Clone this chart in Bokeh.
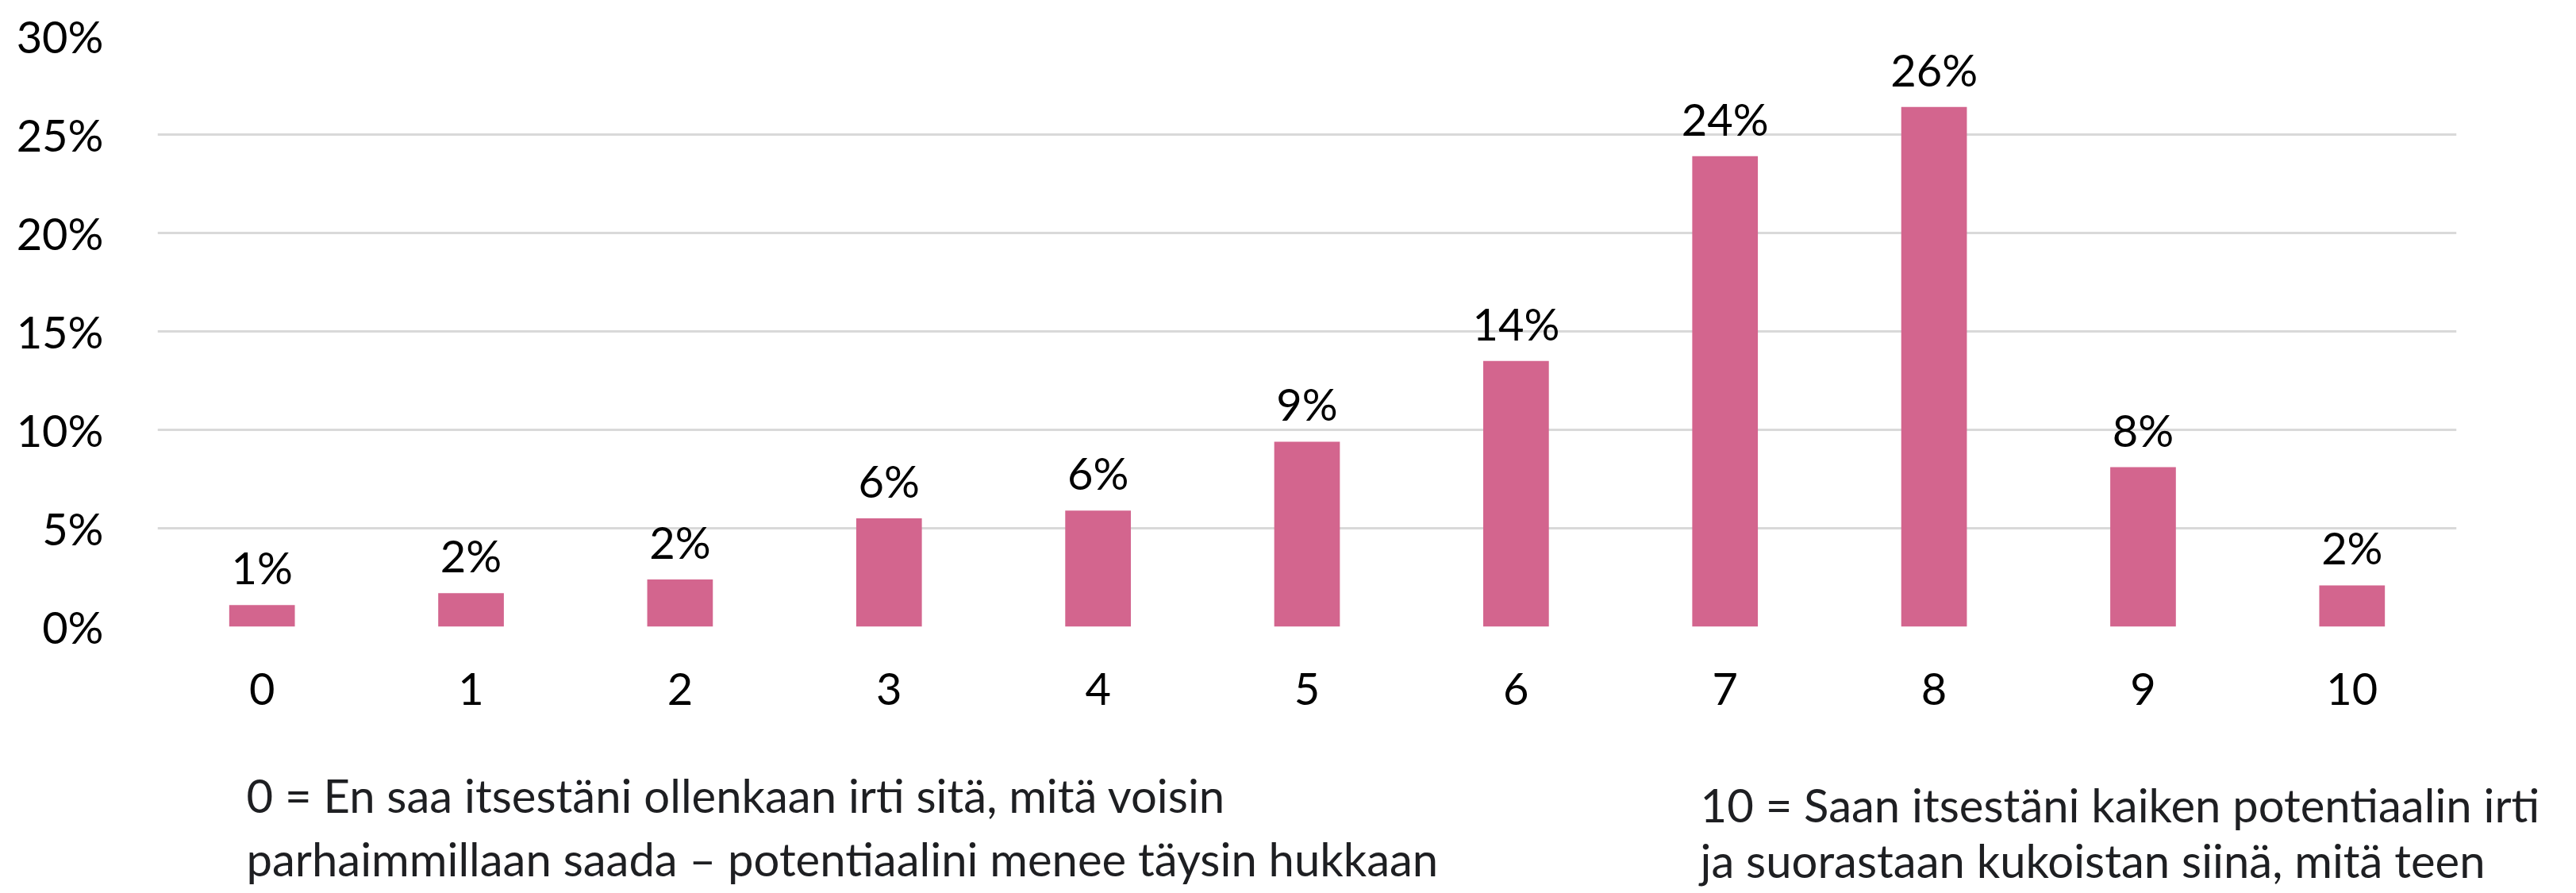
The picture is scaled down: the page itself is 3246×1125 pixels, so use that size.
from bokeh.plotting import figure
from bokeh.layouts import column, row
from bokeh.models import ColumnDataSource, Range1d, FixedTicker, Label, NumeralTickFormatter
from bokeh.core.properties import value
from bokeh.embed import file_html
from bokeh.resources import INLINE

categories = ["0", "1", "2", "3", "4", "5", "6", "7", "8", "9", "10"]
shares = [0.011, 0.017, 0.024, 0.055, 0.059, 0.094, 0.135, 0.239, 0.264, 0.081, 0.021]
bar_labels = ["1%", "2%", "2%", "6%", "6%", "9%", "14%", "24%", "26%", "8%", "2%"]
y_ticks = [0, 0.05, 0.10, 0.15, 0.20, 0.25, 0.30]
left_note = ["0 = En saa itsestäni ollenkaan irti sitä, mitä voisin",
             "parhaimmillaan saada – potentiaalini menee täysin hukkaan"]
right_note = ["10 = Saan itsestäni kaiken potentiaalin irti",
              "ja suorastaan kukoistan siinä, mitä teen"]

FONT = "Lato"
BAR = "#D3658E"

src = ColumnDataSource(dict(x=list(range(len(categories))), top=shares, lab=bar_labels))

W = 3230
H_MAIN = 930
H_NOTES = 187
p = figure(width=W, height=H_MAIN, output_backend="svg", toolbar_location=None,
           x_range=Range1d(-0.5, len(categories) - 0.5), y_range=Range1d(0, 0.30),
           min_border_left=198, min_border_right=135, min_border_top=45, min_border_bottom=141)
p.outline_line_color = None
p.background_fill_color = "white"
p.border_fill_color = "white"

p.vbar(x="x", top="top", width=0.314, bottom=0, source=src, fill_color=BAR, line_color=None)
p.text(x="x", y="top", text="lab", source=src, text_align="center", text_baseline="bottom",
       y_offset=-14, text_font=value(FONT), text_font_size="56px", text_color="#000000")

p.xgrid.grid_line_color = None
p.ygrid.grid_line_color = "#D9D9D9"
p.ygrid.grid_line_width = 3
p.yaxis.ticker = FixedTicker(ticks=y_ticks)
p.yaxis.formatter = NumeralTickFormatter(format="0%")
p.xaxis.ticker = FixedTicker(ticks=list(range(len(categories))))
p.xaxis.major_label_overrides = {i: c for i, c in enumerate(categories)}

for ax in (p.xaxis, p.yaxis):
    ax.axis_line_color = None
    ax.major_tick_line_color = None
    ax.minor_tick_line_color = None
    ax.major_label_text_font = FONT
    ax.major_label_text_font_size = "56px"
    ax.major_label_text_color = "#000000"
p.yaxis.major_label_standoff = 62
p.xaxis.major_label_standoff = 52

notes = figure(width=W, height=H_NOTES, output_backend="svg", toolbar_location=None,
               x_range=Range1d(0, 1), y_range=Range1d(0, 1),
               x_axis_location=None, y_axis_location=None,
               min_border_left=0, min_border_right=0, min_border_top=0, min_border_bottom=0)
notes.grid.visible = False
notes.outline_line_color = None
notes.border_fill_color = "white"

for t, yb in zip(left_note, [116, 36]):
    notes.add_layout(Label(x=310, y=yb, x_units="screen", y_units="screen", text=t,
                           text_baseline="alphabetic", text_font=FONT, text_font_size="58px",
                           text_color="#1E1F22"))
for t, yb in zip(right_note, [104, 34]):
    notes.add_layout(Label(x=2142, y=yb, x_units="screen", y_units="screen", text=t,
                           text_baseline="alphabetic", text_font=FONT, text_font_size="58px",
                           text_color="#1E1F22"))

open("out.html", "w").write(file_html(column(p, row(notes), spacing=0), INLINE))
